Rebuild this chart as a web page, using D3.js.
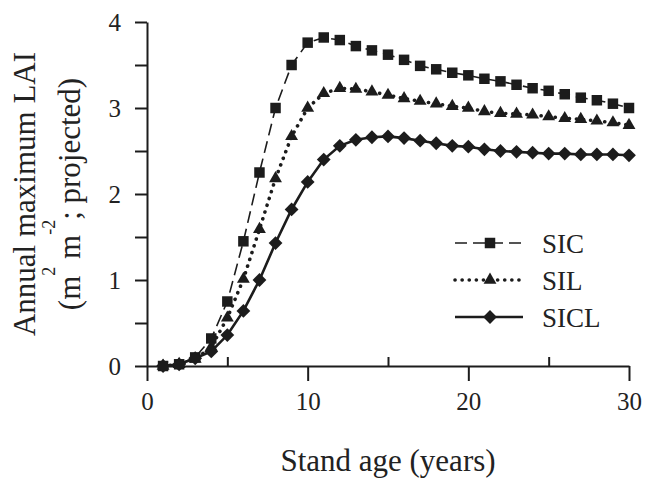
<!DOCTYPE html>
<html>
<head>
<meta charset="utf-8">
<script src="https://cdn.jsdelivr.net/npm/d3@7"></script>
<style>
  body { margin: 0; background: #fff; }
  svg { display: block; font-family: "Liberation Serif", "Times New Roman", serif; }
</style>
</head>
<body>
<svg id="chart" width="645" height="480"></svg>
<script>
// ------------------
// Data
// ------------------
const ages = d3.range(1, 31);
const sic = [0, 0.02, 0.1, 0.32, 0.75, 1.45, 2.25, 3.0, 3.5, 3.76, 3.82, 3.79, 3.72, 3.67, 3.62,
  3.56, 3.49, 3.45, 3.41, 3.38, 3.34, 3.31, 3.27, 3.23, 3.2, 3.16, 3.12, 3.09, 3.05, 3.0];
const sil = [0, 0.02, 0.08, 0.22, 0.56, 1.01, 1.59, 2.18, 2.67, 3.0, 3.17, 3.23, 3.22, 3.19, 3.15,
  3.11, 3.08, 3.05, 3.02, 3.0, 2.96, 2.94, 2.93, 2.92, 2.9, 2.88, 2.87, 2.85, 2.83, 2.8];
const sicl = [0, 0.02, 0.09, 0.17, 0.36, 0.64, 1.0, 1.43, 1.82, 2.14, 2.4, 2.56, 2.63, 2.66, 2.67,
  2.65, 2.62, 2.59, 2.56, 2.55, 2.52, 2.5, 2.49, 2.48, 2.47, 2.47, 2.46, 2.46, 2.46, 2.45];
const seriesNames = ["SIC", "SIL", "SICL"];
const xMajorTicks = [0, 10, 20, 30];
const xMinorTicks = [5, 15, 25];
const yTicks = [0, 0.5, 1, 1.5, 2, 2.5, 3, 3.5, 4];

// ------------------
// Layout
// ------------------
const svg = d3.select("#chart");
const x = d3.scaleLinear().domain([0, 30]).range([147, 629]);
const y = d3.scaleLinear().domain([0, 4]).range([366, 22]);
const ink = "#1c1c1c";

const styles = {
  SIC:  { values: sic,  dash: "12,6", width: 1.6, cap: "butt",
          symbol: d3.symbol().type(d3.symbolSquare).size(110), rotate: 0 },
  SIL:  { values: sil,  dash: "0.1,7", width: 3.6, cap: "round",
          symbol: d3.symbol().type(d3.symbolTriangle).size(72), rotate: 0 },
  SICL: { values: sicl, dash: null, width: 2.6, cap: "butt",
          symbol: d3.symbol().type(d3.symbolSquare).size(95), rotate: 45 }
};

// ------------------
// Axes
// ------------------
const yAxis = svg.append("g")
  .attr("transform", `translate(${x(0)},0)`)
  .call(d3.axisLeft(y).tickValues(yTicks).tickSize(12).tickSizeOuter(0)
    .tickFormat(d => Number.isInteger(d) ? d : ""));

const xAxis = svg.append("g")
  .attr("transform", `translate(0,${y(0)})`)
  .call(d3.axisBottom(x).tickValues(xMajorTicks).tickSize(15).tickSizeOuter(0));

const xMinor = svg.append("g")
  .attr("transform", `translate(0,${y(0)})`)
  .call(d3.axisTop(x).tickValues(xMinorTicks).tickSize(9).tickFormat(""));
xMinor.select(".domain").remove();

[yAxis, xAxis, xMinor].forEach(g => {
  g.select(".domain").attr("stroke", ink).attr("stroke-width", 2);
  g.selectAll(".tick line").attr("stroke", ink).attr("stroke-width", 2);
  g.selectAll(".tick text")
    .attr("fill", "#222")
    .style("font-family", "Liberation Serif")
    .style("font-size", "25px");
});
yAxis.selectAll(".tick text").attr("x", -26);
xAxis.selectAll(".tick text").attr("y", 26);

// ------------------
// Series
// ------------------
const line = d3.line().x((d, i) => x(ages[i])).y(d => y(d));

seriesNames.forEach(name => {
  const s = styles[name];
  svg.append("path")
    .datum(s.values)
    .attr("d", line)
    .attr("fill", "none")
    .attr("stroke", ink)
    .attr("stroke-width", s.width)
    .attr("stroke-linecap", s.cap)
    .attr("stroke-dasharray", s.dash);

  svg.append("g").selectAll("path")
    .data(s.values)
    .join("path")
    .attr("d", s.symbol)
    .attr("transform", (d, i) => `translate(${x(ages[i])},${y(d)}) rotate(${s.rotate})`)
    .attr("fill", ink);
});

// ------------------
// Legend
// ------------------
const legend = svg.append("g").attr("transform", "translate(455,243)");
seriesNames.forEach((name, i) => {
  const s = styles[name];
  const row = legend.append("g").attr("transform", `translate(0,${i * 37})`);
  row.append("line")
    .attr("x1", 0).attr("x2", 68)
    .attr("stroke", ink)
    .attr("stroke-width", s.width)
    .attr("stroke-linecap", s.cap)
    .attr("stroke-dasharray", s.dash);
  row.append("path")
    .attr("d", s.symbol)
    .attr("transform", `translate(35,0) rotate(${s.rotate})`)
    .attr("fill", ink);
  row.append("text")
    .attr("x", 87).attr("y", 10)
    .attr("fill", "#222")
    .style("font-size", "27px")
    .text(name);
});

// ------------------
// Axis titles
// ------------------
const yMid = (y(0) + y(4)) / 2;
svg.append("text")
  .attr("transform", `translate(35,${yMid}) rotate(-90)`)
  .attr("text-anchor", "middle")
  .attr("fill", "#222")
  .style("font-size", "31px")
  .text("Annual maximum LAI");

const unit = svg.append("text")
  .attr("transform", `translate(80,${yMid}) rotate(-90)`)
  .attr("text-anchor", "middle")
  .attr("fill", "#222")
  .style("font-size", "31px");
unit.append("tspan").text("(m");
unit.append("tspan").attr("dy", -25).style("font-size", "18px").text("2");
unit.append("tspan").attr("dy", 25).text(" m");
unit.append("tspan").attr("dy", -25).style("font-size", "18px").text("-2");
unit.append("tspan").attr("dy", 25).text("; projected)");

svg.append("text")
  .attr("x", (x(0) + x(30)) / 2)
  .attr("y", 471)
  .attr("text-anchor", "middle")
  .attr("fill", "#222")
  .style("font-size", "31px")
  .text("Stand age (years)");
</script>
</body>
</html>
